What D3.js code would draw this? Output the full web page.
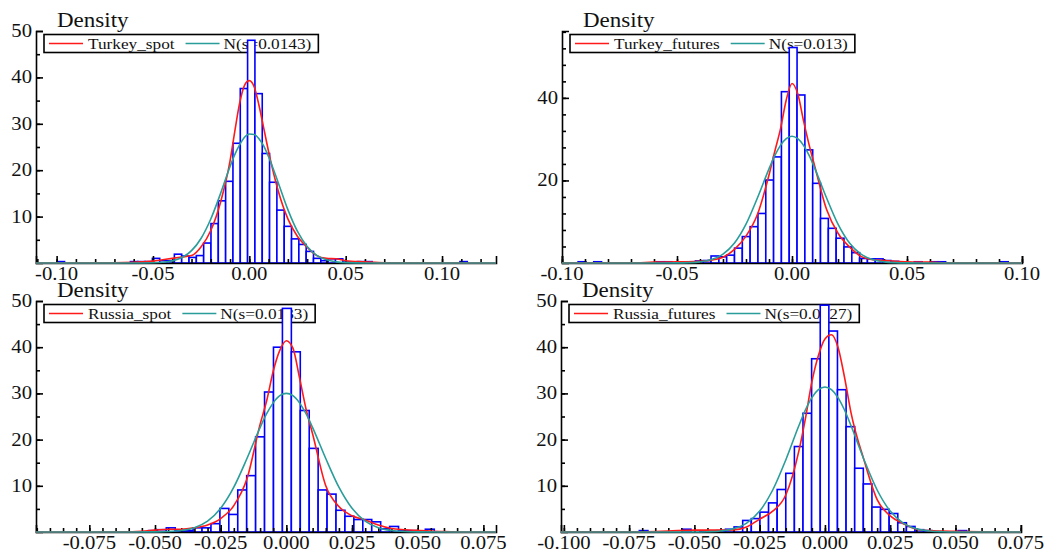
<!DOCTYPE html>
<html>
<head>
<meta charset="utf-8">
<script src="https://cdn.jsdelivr.net/npm/d3@7"></script>
<style>
  body { margin: 0; background: #fff; }
  svg { display: block; }
  text { font-family: "Liberation Serif", "Times New Roman", serif; fill: #111; }
</style>
</head>
<body>
<div id="chart"></div>
<script>
/* Data */
var seriesNames = ["Turkey_spot", "Turkey_futures", "Russia_spot", "Russia_futures"];
var normalSd = ["0.0143", "0.013", "0.0133", "0.0127"];

/* Histograms: left edge of the first bin, bin width, bar heights (density) */
var binStart = [-0.0997, -0.0930, -0.0525, -0.0711];
var binWidth = [0.0038, 0.0034, 0.0034, 0.0033];

var turkeySpotBars = [0.3, 0, 0, 0, 0, 0, 0, 0, 0, 0,
  0.3, 0.3, 0.3, 1.0, 0.5, 0.5, 1.9, 1.5, 1.2, 1.6, 4.3, 8.5, 13.4, 17.6, 25.8, 37.6,
  48.0, 36.5, 23.6, 17.4, 11.4, 7.9, 5.2, 4.0, 2.5, 1.0, 0.5, 0.9, 0.9, 0.2, 0, 0.3, 0.3,
  0, 0, 0, 0, 0, 0, 0, 0, 0, 0, 0, 0, 0.3];
var turkeyFuturesBars = [0.3, 0, 0.3, 0, 0, 0, 0, 0, 0, 0,
  0.3, 0.3, 0, 0, 0.3, 0.5, 0.6, 1.7, 1.5, 1.9, 3.6, 6.4, 8.8, 12.0, 20.1, 25.7, 41.5,
  52.2, 40.7, 27.4, 19.3, 10.8, 8.4, 6.0, 3.9, 2.5, 1.1, 1.0, 1.0, 0.6, 0.4, 0, 0, 0.3, 0, 0.3, 0.3,
  0, 0, 0, 0, 0, 0, 0, 0.3];
var russiaSpotBars = [0.3, 0.5, 0.9, 0.3, 0.3, 0.9, 0.9, 1.8, 5.1, 3.8, 9.1, 12.2, 20.6, 30.3, 40.0,
  48.4, 39.0, 26.3, 18.1, 9.1, 8.2, 4.7, 3.4, 2.7, 2.7, 2.2, 0.7, 1.2, 0.3, 0.3, 0, 0.6];
var russiaFuturesBars = [0.3, 0, 0, 0, 0,
  0.6, 0, 0.2, 0.2, 0.3, 0.6, 1.1, 2.5, 2.9, 4.3, 6.3, 9.2, 12.7, 18.5, 25.7, 37.5,
  49.1, 43.5, 30.8, 22.8, 13.8, 10.4, 5.4, 4.9, 4.0, 2.0, 1.2, 0.5, 0.3, 0, 0, 0, 0.3];
var barHeights = [turkeySpotBars, turkeyFuturesBars, russiaSpotBars, russiaFuturesBars];

/* Density curves, read at these returns */
var curveX = [-0.13, -0.07, -0.06, -0.05, -0.045, -0.04, -0.035, -0.03, -0.025, -0.02, -0.015,
  -0.01, -0.0075, -0.005, -0.0025, 0, 0.0025, 0.005, 0.0075, 0.01, 0.015, 0.02, 0.025, 0.03,
  0.035, 0.04, 0.045, 0.05, 0.06, 0.07, 0.13];

var turkeySpotKernel = [0, 0.05, 0.15, 0.4, 0.7, 1.0, 1.3, 1.6, 3.5, 7.0, 13.0,
  22.0, 28.5, 34.5, 38.3, 39.3, 38.0, 34.0, 29.0, 24.0, 15.5, 9.5, 5.7, 3.4,
  1.6, 1.0, 0.9, 0.5, 0.25, 0.05, 0];
var turkeyFuturesKernel = [0, 0.05, 0.2, 0.3, 0.3, 0.4, 0.7, 1.4, 3.3, 6.5, 11.8,
  21.3, 27.0, 32.5, 39.5, 43.5, 41.0, 34.5, 28.5, 23.2, 13.0, 7.2, 3.9, 1.6,
  0.8, 0.6, 0.4, 0.3, 0.2, 0.05, 0];
var russiaSpotKernel = [0, 0, 0.05, 0.4, 0.6, 0.6, 0.9, 1.5, 2.9, 5.7, 11.5,
  23.3, 28.4, 34.8, 39.3, 41.4, 39.8, 33.4, 26.6, 21.2, 10.0, 5.5, 3.5, 2.6,
  1.5, 0.75, 0.5, 0.35, 0.1, 0, 0];
var russiaFuturesKernel = [0, 0.05, 0.2, 0.4, 0.4, 0.4, 0.45, 1.1, 2.8, 4.5, 8.0,
  17.5, 24.5, 32.5, 38.2, 41.8, 42.7, 40.0, 33.5, 25.8, 15.5, 7.0, 3.5, 1.8,
  0.6, 0.3, 0.2, 0.15, 0.05, 0, 0];
var kernelValues = [turkeySpotKernel, turkeyFuturesKernel, russiaSpotKernel, russiaFuturesKernel];

var turkeySpotNormal = [0, 0, 0, 0.05, 0.16, 0.46, 1.18, 2.66, 5.34, 9.48, 14.9,
  20.8, 23.4, 25.5, 27.1, 27.8, 27.7, 26.8, 25.2, 22.9, 17.3, 11.5, 6.8, 3.57,
  1.65, 0.68, 0.25, 0.08, 0, 0, 0];
var turkeyFuturesNormal = [0, 0, 0, 0.02, 0.08, 0.27, 0.82, 2.14, 4.83, 9.4, 15.8,
  22.8, 26.0, 28.5, 30.1, 30.7, 30.1, 28.5, 26.0, 22.8, 15.8, 9.4, 4.83, 2.14,
  0.82, 0.27, 0.08, 0.02, 0, 0, 0];
var russiaSpotNormal = [0, 0, 0, 0.03, 0.1, 0.33, 0.94, 2.36, 5.13, 9.7, 15.9,
  22.6, 25.6, 27.95, 29.5, 30.0, 29.5, 27.95, 25.6, 22.6, 15.9, 9.7, 5.13, 2.36,
  0.94, 0.33, 0.1, 0.03, 0, 0, 0];
var russiaFuturesNormal = [0, 0, 0, 0.01, 0.06, 0.22, 0.7, 1.93, 4.52, 9.09, 15.6,
  23.0, 26.4, 29.1, 30.8, 31.4, 30.8, 29.1, 26.4, 23.0, 15.6, 9.09, 4.52, 1.93,
  0.7, 0.22, 0.06, 0.01, 0, 0, 0];
var normalValues = [turkeySpotNormal, turkeyFuturesNormal, russiaSpotNormal, russiaFuturesNormal];

/* Axes */
var xTicks = [[-0.10, -0.05, 0, 0.05, 0.10], [-0.10, -0.05, 0, 0.05, 0.10],
  [-0.075, -0.05, -0.025, 0, 0.025, 0.05, 0.075], [-0.1, -0.075, -0.05, -0.025, 0, 0.025, 0.05, 0.075]];
var xFormats = [".2f", ".2f", ".3f", ".3f"];
var xMinorStep = [0.01, 0.01, 0.005, 0.005];
var yTicks = [[10, 20, 30, 40, 50], [20, 40], [10, 20, 30, 40, 50], [10, 20, 30, 40, 50]];
var yMinorStep = [5, 4, 5, 5];
var xExtent = [[-0.1107, 0.1280], [-0.100, 0.100], [-0.0953, 0.0798], [-0.1011, 0.0751]];
var yMax = [50, 56.2, 50, 50];

/* Layout */
var width = 1060,
    height = 554,
    stretch = 1.15,
    blue = "#0000ff",
    red = "#ff1a1a",
    teal = "#2a9d9a";

var boxes = [
  {left: 36, right: 496, top: 31, bottom: 263},
  {left: 562, right: 1022, top: 31, bottom: 263},
  {left: 36, right: 496, top: 301, bottom: 532},
  {left: 561, right: 1021, top: 301, bottom: 532}
];

var locale = d3.formatLocale({decimal: ".", thousands: ",", grouping: [3], currency: ["", ""], minus: "-"});

var svg = d3.select("#chart").append("svg")
    .attr("width", width)
    .attr("height", height)
    .attr("viewBox", "0 0 " + width + " " + height);

function addText(sel, str, x, y, size, anchor) {
  return sel.append("text")
    .attr("transform", "translate(" + x + "," + y + ") scale(" + stretch + ",1)")
    .attr("font-size", size)
    .attr("text-anchor", anchor || "start")
    .text(str);
}

boxes.forEach(function(p, i) {
  var x = d3.scaleLinear().domain(xExtent[i]).range([p.left, p.right]);
  var y = d3.scaleLinear().domain([0, yMax[i]]).range([p.bottom, p.top]);
  var g = svg.append("g");

  g.append("clipPath").attr("id", "clip" + i)
    .append("rect")
    .attr("x", p.left).attr("y", p.top - 40)
    .attr("width", p.right - p.left).attr("height", p.bottom - p.top + 41);

  /* Title */
  addText(g, "Density", p.left + 21, p.top - 4, 20);

  /* Legend (the bars are drawn over it) */
  var lx = p.left + 8, ly = p.top + 3.5;
  var legend = g.append("g");
  var box = legend.append("rect")
    .attr("x", lx).attr("y", ly).attr("height", 18)
    .attr("fill", "#fff").attr("stroke", "#000").attr("stroke-width", 1.6);
  legend.append("line")
    .attr("x1", lx + 5).attr("x2", lx + 39).attr("y1", ly + 9).attr("y2", ly + 9)
    .attr("stroke", red).attr("stroke-width", 1.6);
  var t1 = addText(legend, seriesNames[i], lx + 44, ly + 14, 15);
  var tx = lx + 44 + t1.node().getComputedTextLength() * stretch + 11;
  legend.append("line")
    .attr("x1", tx).attr("x2", tx + 34).attr("y1", ly + 9).attr("y2", ly + 9)
    .attr("stroke", teal).attr("stroke-width", 1.6);
  var t2 = addText(legend, "N(s=" + normalSd[i] + ")", tx + 38, ly + 14, 15);
  box.attr("width", tx + 38 + t2.node().getComputedTextLength() * stretch + 7 - lx);

  /* Histogram */
  var bars = barHeights[i].map(function(h, k) {
    return {x0: binStart[i] + k * binWidth[i], x1: binStart[i] + (k + 1) * binWidth[i], h: h};
  }).filter(function(d) { return d.h > 0; });

  g.append("g").selectAll("rect")
    .data(bars)
    .join("rect")
    .attr("x", function(d) { return x(d.x0); })
    .attr("width", function(d) { return x(d.x1) - x(d.x0); })
    .attr("y", function(d) { return y(d.h); })
    .attr("height", function(d) { return y(0) - y(d.h); })
    .attr("fill", "#fff")
    .attr("stroke", blue)
    .attr("stroke-width", 1.6);

  /* Axes: ticks point inwards */
  var xMinor = d3.range(Math.ceil(xExtent[i][0] / xMinorStep[i]), Math.floor(xExtent[i][1] / xMinorStep[i]) + 1)
    .map(function(k) { return k * xMinorStep[i]; });
  var yMinor = d3.range(yMinorStep[i], yMax[i], yMinorStep[i]);

  var ax = g.append("g").attr("transform", "translate(0," + p.bottom + ")");
  ax.append("g").call(d3.axisBottom(x).tickValues(xMinor).tickSize(-4).tickFormat(""))
    .call(function(s) { s.select(".domain").remove(); });
  ax.append("g").call(d3.axisBottom(x).tickValues(xTicks[i]).tickSizeInner(-7).tickSizeOuter(-7).tickFormat(""));

  var ay = g.append("g").attr("transform", "translate(" + p.left + ",0)");
  ay.append("g").call(d3.axisLeft(y).tickValues(yMinor).tickSize(-4).tickFormat(""))
    .call(function(s) { s.select(".domain").remove(); });
  ay.append("g").call(d3.axisLeft(y).tickValues(yTicks[i]).tickSizeInner(-7).tickSizeOuter(-7).tickFormat(""));

  g.selectAll(".tick line, .domain").attr("stroke", "#000").attr("stroke-width", 1.6);

  var fmt = locale.format(xFormats[i]);
  xTicks[i].forEach(function(v) {
    addText(g, fmt(v), x(v), p.bottom + 16.5, 18, "middle");
  });
  yTicks[i].forEach(function(v) {
    addText(g, v, p.left - 4, y(v) + 6, 18, "end");
  });

  /* Density curves */
  var line = d3.line()
    .x(function(d) { return x(d[0]); })
    .y(function(d) { return y(d[1]); })
    .curve(d3.curveMonotoneX);

  g.append("path")
    .datum(d3.zip(curveX, kernelValues[i]))
    .attr("clip-path", "url(#clip" + i + ")")
    .attr("fill", "none")
    .attr("stroke", red)
    .attr("stroke-width", 1.6)
    .attr("d", line);

  g.append("path")
    .datum(d3.zip(curveX, normalValues[i]))
    .attr("clip-path", "url(#clip" + i + ")")
    .attr("fill", "none")
    .attr("stroke", teal)
    .attr("stroke-width", 1.6)
    .attr("d", line);
});
</script>
</body>
</html>
